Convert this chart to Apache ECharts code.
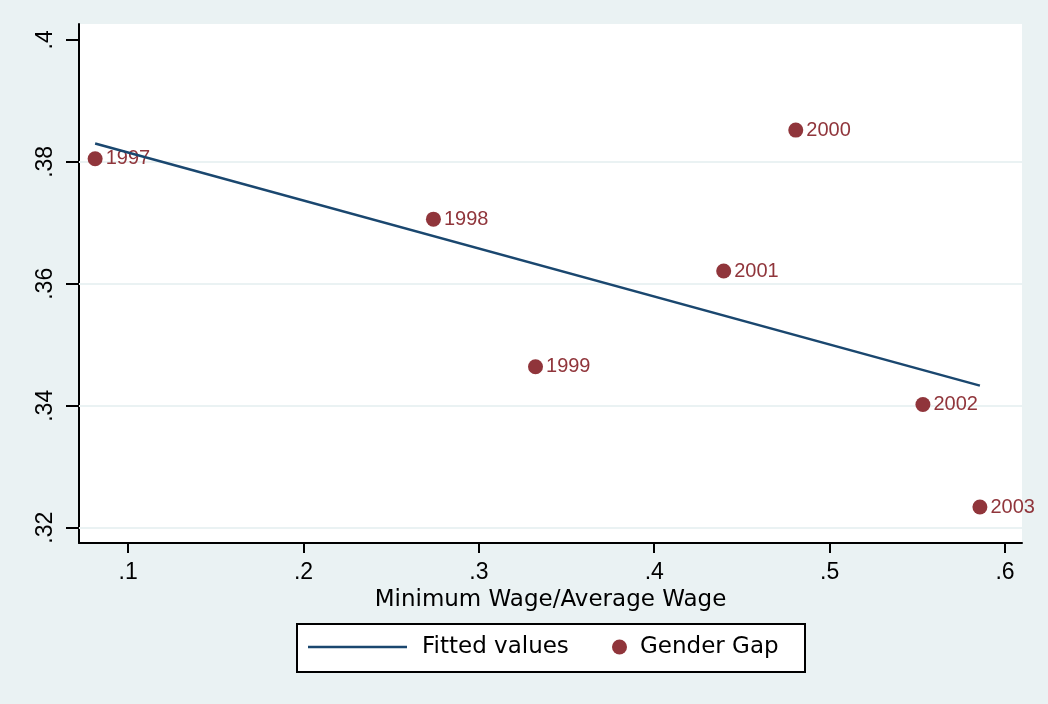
<!DOCTYPE html>
<html>
<head>
<meta charset="utf-8">
<script src="https://cdn.jsdelivr.net/npm/echarts@6/dist/echarts.min.js"></script>
<style>
html,body{margin:0;padding:0;background:#EAF2F3;}
#chart{width:1048px;height:704px;}
</style>
</head>
<body>
<div id="chart"></div>
<script>
// Data
const years = ['1997','1998','1999','2000','2001','2002','2003'];
const minWageRatio = [0.0812, 0.2741, 0.3323, 0.4807, 0.4396, 0.5532, 0.5857];
const genderGap = [0.3805, 0.3706, 0.3464, 0.3852, 0.3621, 0.3402, 0.3234];
const fittedX = [0.0812, 0.5857];
const fittedY = [0.3830, 0.3433];
const xTicks = [0.1, 0.2, 0.3, 0.4, 0.5, 0.6];
const yTicks = [0.32, 0.34, 0.36, 0.38, 0.40];
const yGrid = [0.32, 0.34, 0.36, 0.38];

const BG = '#EAF2F3';
const NAVY = '#1A476F';
const MAROON = '#90353B';
const fmt = v => String(+v.toFixed(2)).replace(/^0/, '');

const chart = echarts.init(document.getElementById('chart'));
chart.setOption({
  backgroundColor: BG,
  animation: false,
  grid: {left: 79, right: 26, top: 24, bottom: 161, show: true, backgroundColor: '#fff', borderWidth: 0},
  xAxis: {
    type: 'value', min: 0.072, max: 0.6097,
    name: 'Minimum Wage/Average Wage', nameLocation: 'middle', nameGap: 44,
    nameTextStyle: {fontFamily: 'DejaVu Sans', fontSize: 23, color: '#000'},
    axisLine: {show: true, onZero: false, lineStyle: {color: '#000', width: 2}},
    axisTick: {show: true, length: 10, lineStyle: {color: '#000', width: 2}, customValues: xTicks},
    axisLabel: {customValues: xTicks, formatter: fmt, fontFamily: 'Liberation Sans', fontSize: 23, color: '#000', margin: 18},
    splitLine: {show: false}
  },
  yAxis: {
    type: 'value', min: 0.3175, max: 0.4026,
    axisLine: {show: true, onZero: false, lineStyle: {color: '#000', width: 2}},
    axisTick: {show: true, length: 13, lineStyle: {color: '#000', width: 2}, customValues: yTicks},
    axisLabel: {customValues: yTicks, formatter: fmt, rotate: 90, fontFamily: 'Liberation Sans', fontSize: 23, color: '#000', margin: 22},
    splitLine: {show: false}
  },
  legend: [
    {
      data: [{name: 'Fitted values', icon: 'rect'}], left: 308, top: 634, padding: 0,
      itemWidth: 99, itemHeight: 2.5, itemGap: 0,
      itemStyle: {color: NAVY},
      textStyle: {fontFamily: 'DejaVu Sans', fontSize: 23, color: '#000', padding: [0, 0, 0, 10], lineHeight: 26}
    },
    {
      data: [{name: 'Gender Gap', icon: 'circle'}], left: 612, top: 634, padding: 0,
      itemWidth: 15, itemHeight: 15, itemGap: 0,
      textStyle: {fontFamily: 'DejaVu Sans', fontSize: 23, color: '#000', padding: [0, 0, 0, 8], lineHeight: 26}
    }
  ],
  graphic: [{
    type: 'rect', left: 296, top: 623, z: 0,
    shape: {width: 508, height: 48},
    style: {fill: '#fff', stroke: '#000', lineWidth: 2}
  }],
  series: [
    {
      name: 'grid', type: 'scatter', data: [], z: 1, silent: true,
      markLine: {
        z: 1, silent: true, symbol: 'none', label: {show: false},
        lineStyle: {color: BG, width: 2, type: 'solid'},
        data: yGrid.map(v => ({yAxis: v}))
      }
    },
    {
      name: 'Gender Gap', type: 'scatter', z: 3,
      data: minWageRatio.map((x, i) => ({value: [x, genderGap[i]], name: years[i]})),
      symbolSize: 15, itemStyle: {color: MAROON, opacity: 1},
      label: {show: true, position: 'right', distance: 3, formatter: p => p.name,
        fontFamily: 'Liberation Sans', fontSize: 20, color: MAROON}
    },
    {
      name: 'Fitted values', type: 'line', z: 5,
      data: fittedX.map((x, i) => [x, fittedY[i]]),
      symbol: 'none', lineStyle: {color: NAVY, width: 2.5}, itemStyle: {color: NAVY}
    }
  ]
});
</script>
</body>
</html>
